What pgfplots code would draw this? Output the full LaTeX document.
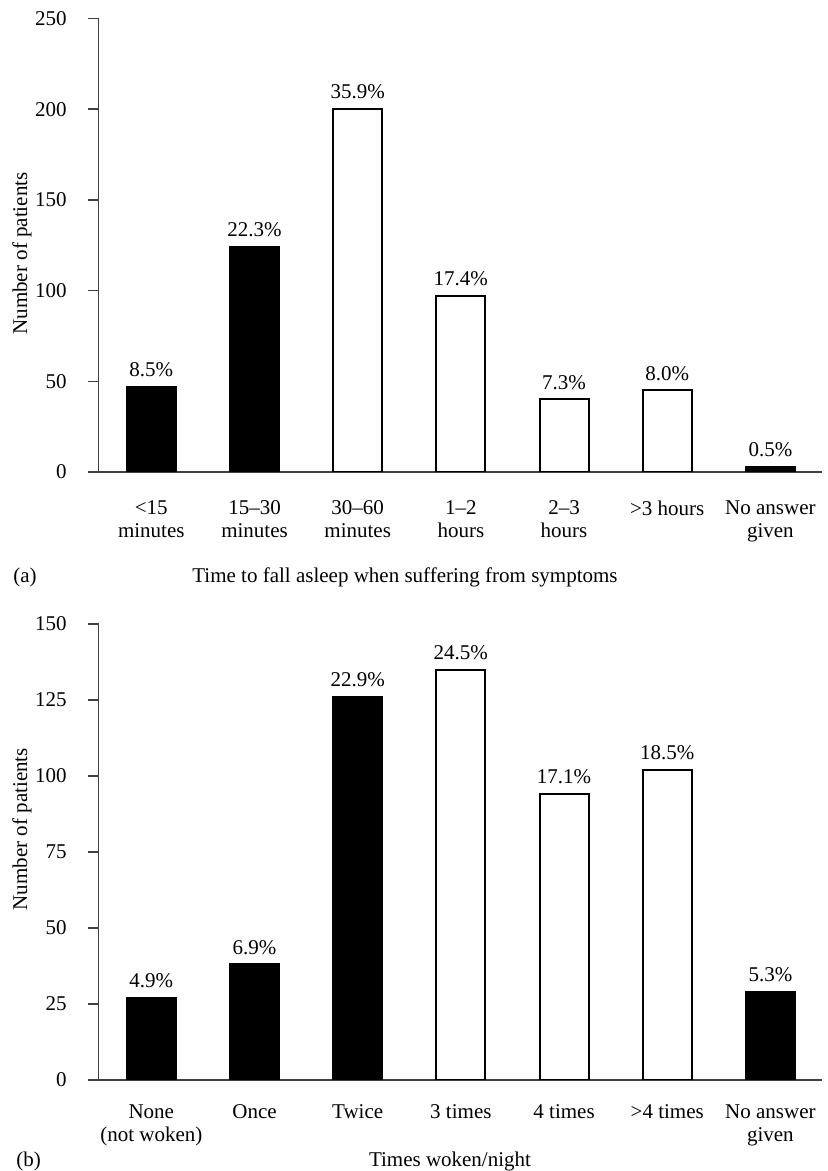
\documentclass[border=0pt]{standalone}
\usepackage{fontspec}
\setmainfont{Liberation Serif}
\usepackage{pgfplots}
\pgfplotsset{compat=1.18}

% shared look of both panels (1 px of the reference = 0.5pt)
\pgfplotsset{
  panel/.style={
    scale only axis,
    width=361.65pt,
    xmin=-0.51, xmax=6.5, ymin=0,
    axis lines=left,
    axis line style={-, line width=0.8pt, black!75},
    xtick={0,...,6},
    x tick style={draw=none},
    y tick style={line width=0.8pt, black!75},
    tick align=outside,
    major tick length=5.35pt,
    xticklabel style={align=center},
    yticklabel style={xshift=-7pt},
    /pgf/number format/assume math mode=true,
    ybar,
    bar width=24.5pt,
    nodes near coords,
    point meta=explicit symbolic,
    every node near coord/.append style={text=black, yshift=1pt},
    every axis y label/.style={rotate=90, anchor=center},
  },
  blackbar/.style={fill=black, draw=black, line width=1pt, bar shift=0pt},
  whitebar/.style={fill=white, draw=black, line width=1pt, bar shift=0pt},
}

\begin{document}
\fontsize{10.5}{11.6}\selectfont
\begin{tikzpicture}
\useasboundingbox (0,0) rectangle (414pt,585.5pt);

% (a) time to fall asleep
\begin{axis}[panel,
    at={(49.35pt,349.5pt)}, anchor=south west,
    height=226.7pt,
    ymax=250, ytick={0,50,...,250},
    xticklabel style={yshift=-5.2pt},
    xticklabels={{<15\\minutes}, {15--30\\minutes}, {30--60\\minutes},
                 {1--2\\hours}, {2--3\\hours}, {>3 hours}, {No answer\\given}},
    ylabel={Number of patients},
    ylabel style={at={([xshift=-38.35pt]axis description cs:0,0.482)}},
]
\addplot[blackbar] coordinates {(0,47) [8.5\%] (1,124) [22.3\%] (6,3) [0.5\%]};
\addplot[whitebar] coordinates {(2,200) [35.9\%] (3,97) [17.4\%] (4,40) [7.3\%] (5,45) [8.0\%]};
\end{axis}
\node[anchor=base west, inner sep=0] at (6.5pt,294pt) {(a)};
\node[anchor=base, inner sep=0] at (202.5pt,294pt) {Time to fall asleep when suffering from symptoms};

% (b) times woken per night
\begin{axis}[panel,
    at={(49.35pt,45.5pt)}, anchor=south west,
    height=228pt,
    ymax=150, ytick={0,25,...,150},
    xticklabel style={yshift=-3.2pt},
    xticklabels={{None\\(not woken)}, {Once}, {Twice}, {3 times},
                 {4 times}, {>4 times}, {No answer\\given}},
    ylabel={Number of patients},
    ylabel style={at={([xshift=-38.35pt]axis description cs:0,0.55)}},
]
\addplot[blackbar] coordinates {(0,27) [4.9\%] (1,38) [6.9\%] (2,126) [22.9\%] (6,29) [5.3\%]};
\addplot[whitebar] coordinates {(3,135) [24.5\%] (4,94) [17.1\%] (5,102) [18.5\%]};
\end{axis}
\node[anchor=base west, inner sep=0] at (8pt,2.1pt) {(b)};
\node[anchor=base, inner sep=0] at (225pt,2.1pt) {Times woken/night};
\end{tikzpicture}
\end{document}
